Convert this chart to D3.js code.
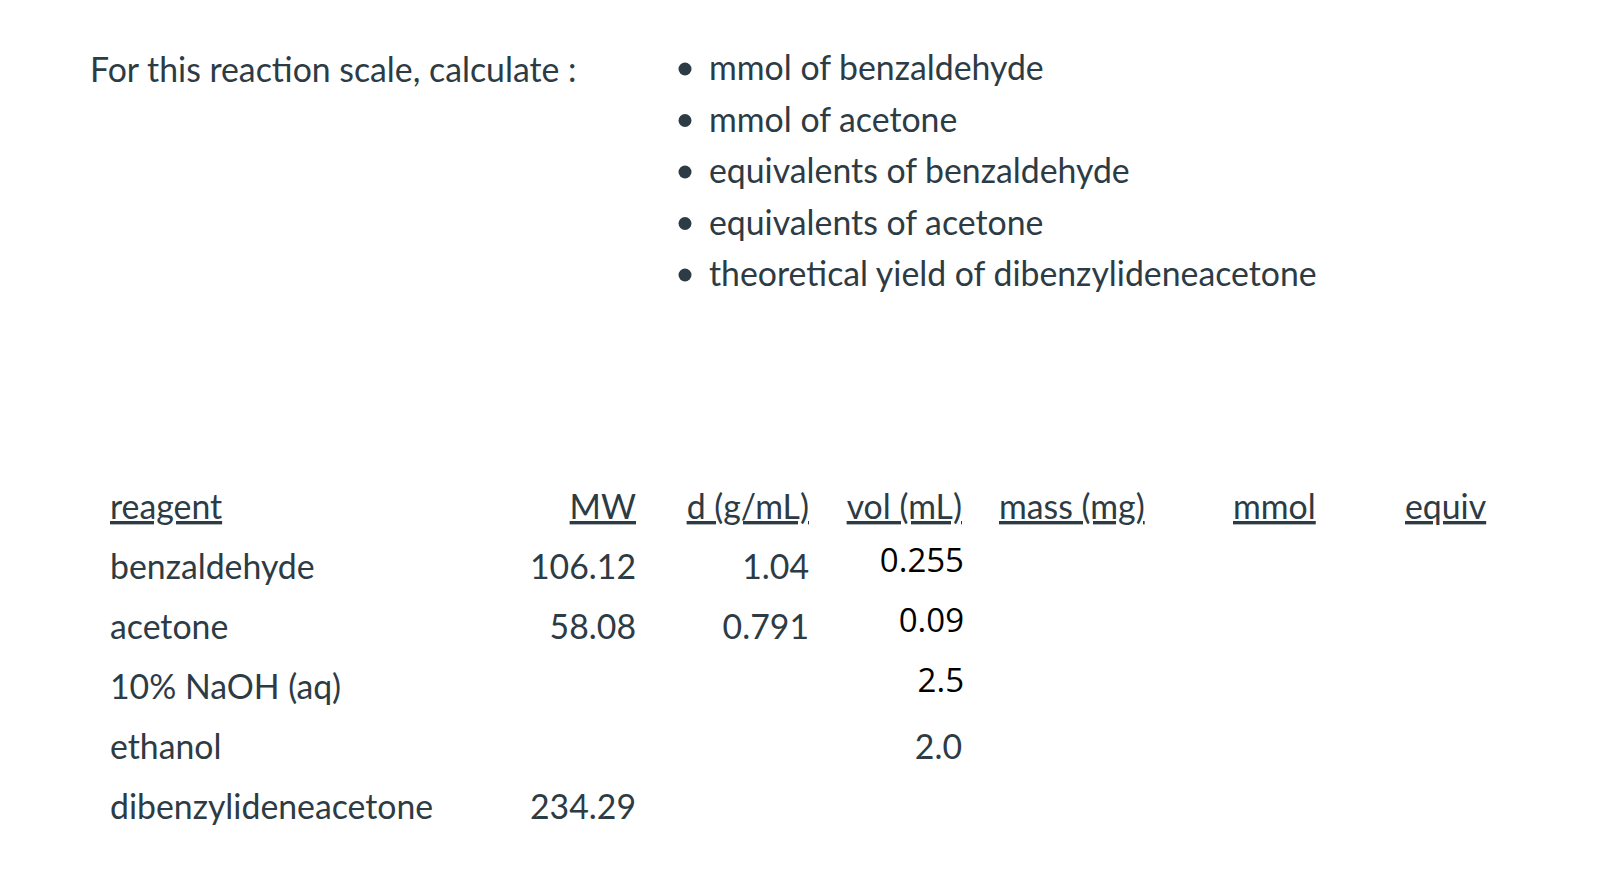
<!DOCTYPE html>
<html><head><meta charset="utf-8">
<script src="https://cdn.jsdelivr.net/npm/d3@7"></script>
<style>body{margin:0;background:#fff}</style></head>
<body><svg id="c" width="1600" height="894"></svg>
<script>
const title = "For this reaction scale, calculate :";
const bullets = ["mmol of benzaldehyde","mmol of acetone","equivalents of benzaldehyde","equivalents of acetone","theoretical yield of dibenzylideneacetone"];
const headers = ["reagent","MW","d (g/mL)","vol (mL)","mass (mg)","mmol","equiv"];
const reagents = ["benzaldehyde","acetone","10% NaOH (aq)","ethanol","dibenzylideneacetone"];
const mw = ["106.12","58.08","","","234.29"];
const density = ["1.04","0.791","","",""];
const vol = ["0.255","0.09","2.5","2.0",""];
const volHighlighted = [true,true,true,false,false];

const svg = d3.select("#c");
const grey = "#2d3b45";
const font = "Lato, 'Noto Sans', sans-serif";
const fs = 33.8;

svg.append("text").attr("x",90).attr("y",82).attr("font-family",font).attr("font-size",fs).attr("fill",grey).text(title);

const by = d3.scalePoint().domain(d3.range(bullets.length)).range([80,286]);
const bg = svg.append("g");
bullets.forEach((b,i)=>{
  bg.append("circle").attr("cx",685).attr("cy",by(i)-11).attr("r",6.5).attr("fill",grey);
  bg.append("text").attr("x",709).attr("y",by(i)).attr("font-family",font).attr("font-size",fs).attr("fill",grey).text(b);
});

const ry = d3.scalePoint().domain(d3.range(reagents.length+1)).range([519,819]);
const cols = [[110,"start"],[636,"end"],[809,"end"],[962,"end"],[999,"start"],[1233,"start"],[1405,"start"]];
headers.forEach((h,j)=>{
  svg.append("text").attr("x",cols[j][0]).attr("y",ry(0)).attr("text-anchor",cols[j][1])
    .attr("font-family",font).attr("font-size",fs).attr("fill",grey)
    .attr("text-decoration","underline").text(h);
});
reagents.forEach((r,i)=>{
  const y = ry(i+1);
  const t = (x,a,s)=>svg.append("text").attr("x",x).attr("y",y).attr("text-anchor",a).attr("font-family",font).attr("font-size",fs).attr("fill",grey).text(s);
  t(110,"start",r);
  if(mw[i]) t(636,"end",mw[i]);
  if(density[i]) t(809,"end",density[i]);
  if(vol[i]){
    if(volHighlighted[i]){
      svg.append("text").attr("x",964).attr("y",y-7).attr("text-anchor","end")
        .attr("font-family","'Open Sans', sans-serif").attr("font-size",33).attr("font-weight",500).attr("fill","#000").text(vol[i]);
    } else t(962,"end",vol[i]);
  }
});
</script></body></html>
